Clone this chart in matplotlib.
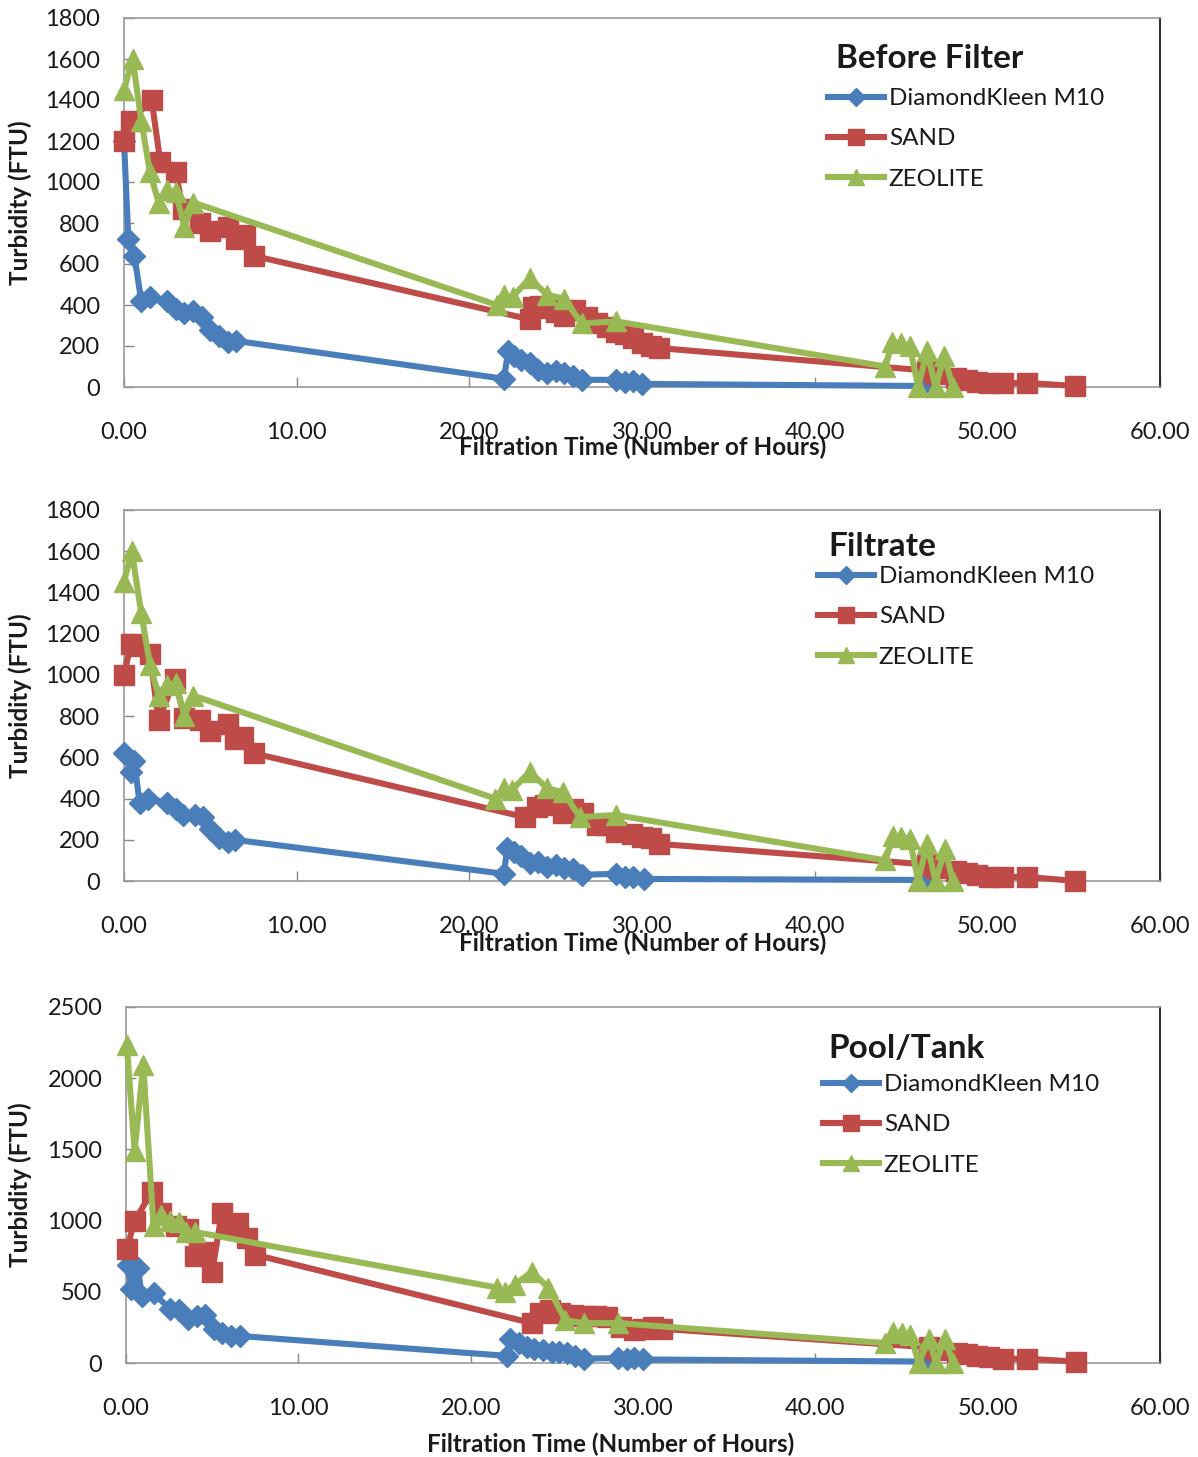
import matplotlib
matplotlib.use("Agg")
import matplotlib.pyplot as plt
from matplotlib.lines import Line2D
from matplotlib.ticker import FixedLocator, FuncFormatter

plt.rcParams['font.family'] = ['Lato', 'DejaVu Sans']

# ---------------- data ----------------
series_names = ["DiamondKleen M10", "SAND", "ZEOLITE"]
panel_titles = ["Before Filter", "Filtrate", "Pool/Tank"]
x_ticks = [0, 10, 20, 30, 40, 50, 60]
y_ticks_top = [0, 200, 400, 600, 800, 1000, 1200, 1400, 1600, 1800]
y_ticks_bottom = [0, 500, 1000, 1500, 2000, 2500]

# Before Filter
bf_dk_x = [0.0, 0.25, 0.6, 1.0, 1.5, 2.5, 3.0, 3.5, 4.0, 4.5, 5.0, 5.5, 6.0, 6.5,
           22.0, 22.25, 22.6, 23.0, 23.5, 24.0, 24.5, 25.0, 25.5, 26.0, 26.5,
           28.5, 29.0, 29.5, 30.0, 46.2]
bf_dk_y = [1200, 720, 640, 420, 440, 420, 380, 360, 370, 340, 280, 250, 220, 225,
           40, 175, 150, 130, 115, 85, 70, 80, 70, 55, 35,
           35, 25, 30, 15, 5]
bf_sand_x = [0.0, 0.4, 1.6, 2.1, 3.0, 3.4, 4.4, 5.0, 6.0, 6.5, 7.0, 7.5,
             23.5, 23.7, 24.1, 24.6, 25.0, 25.5, 26.1, 26.8, 27.4, 28.0, 28.5, 29.0,
             29.5, 30.0, 30.5, 31.0,
             46.5, 47.0, 48.2, 48.8, 49.4, 50.1, 50.9, 52.3, 55.1]
bf_sand_y = [1200, 1300, 1400, 1100, 1050, 870, 800, 760, 780, 720, 740, 640,
             330, 390, 395, 385, 365, 345, 375, 340, 310, 295, 270, 260,
             240, 215, 200, 190,
             80, 65, 45, 35, 25, 20, 18, 20, 5]
bf_zeo_x = [0.0, 0.5, 1.0, 1.5, 2.0, 2.5, 3.0, 3.5, 4.0,
            21.6, 22.0, 22.5, 23.5, 24.5, 25.5, 26.5, 28.5,
            44.1, 44.5, 45.0, 45.5, 46.0, 46.5, 47.0, 47.5, 48.0]
bf_zeo_y = [1450, 1600, 1300, 1050, 900, 960, 950, 780, 900,
            400, 450, 440, 530, 450, 430, 310, 320,
            100, 220, 215, 200, 0, 175, 0, 150, 0]

# Filtrate
f_dk_x = [0.0, 0.4, 0.6, 0.9, 1.4, 2.5, 3.0, 3.4, 4.1, 4.6, 5.0, 5.5, 6.0, 6.4,
          22.0, 22.2, 22.6, 23.0, 23.5, 24.0, 24.5, 25.0, 25.5, 26.0, 26.5,
          28.5, 29.0, 29.5, 30.1, 46.2]
f_dk_y = [620, 530, 580, 380, 400, 380, 350, 320, 320, 310, 250, 210, 190, 200,
          35, 160, 140, 120, 85, 90, 70, 80, 65, 60, 30,
          35, 20, 20, 10, 5]
f_sand_x = [0.0, 0.4, 0.7, 1.5, 2.0, 2.95, 3.5, 4.4, 5.0, 6.0, 6.4, 6.9, 7.5,
            23.2, 23.9, 24.4, 25.0, 25.4, 26.0, 26.6, 27.4, 28.0, 28.5, 29.4,
            30.0, 30.5, 31.0,
            46.5, 47.0, 48.2, 48.8, 49.4, 50.1, 50.9, 52.3, 55.1]
f_sand_y = [1000, 1150, 1140, 1100, 780, 980, 790, 780, 730, 760, 690, 700, 620,
            310, 360, 370, 375, 330, 350, 330, 270, 270, 240, 230,
            215, 210, 180,
            80, 65, 50, 40, 30, 20, 20, 20, 0]
f_zeo_x = [0.0, 0.45, 1.0, 1.5, 2.0, 2.5, 3.0, 3.5, 4.0,
           21.5, 22.0, 22.45, 23.5, 24.5, 25.45, 26.4, 28.5,
           44.1, 44.55, 45.0, 45.5, 46.0, 46.5, 47.0, 47.55, 48.0]
f_zeo_y = [1450, 1600, 1300, 1050, 900, 950, 960, 800, 900,
           400, 450, 440, 530, 450, 430, 310, 320,
           100, 220, 215, 205, 0, 180, 0, 155, 0]

# Pool/Tank
p_dk_x = [0.1, 0.3, 0.7, 0.9, 1.6, 2.55, 3.1, 3.6, 4.1, 4.6, 5.1, 5.55, 6.1, 6.6,
          22.1, 22.3, 22.8, 23.25, 23.7, 24.2, 24.7, 25.1, 25.6, 26.05, 26.55,
          28.55, 29.05, 29.5, 30.0, 46.2]
p_dk_y = [690, 520, 670, 470, 490, 380, 370, 310, 330, 340, 240, 210, 190, 190,
          50, 170, 140, 110, 95, 90, 80, 75, 70, 50, 30,
          35, 25, 35, 25, 10]
p_sand_x = [0.05, 0.5, 1.5, 2.05, 2.9, 3.6, 4.0, 4.5, 5.0, 5.55, 5.95, 6.5, 7.0, 7.5,
            23.55, 24.0, 24.6, 25.2, 25.95, 26.6, 27.3, 27.9, 28.75, 29.45,
            30.0, 30.6, 31.1,
            46.6, 47.0, 48.2, 48.8, 49.4, 50.1, 50.9, 52.3, 55.1]
p_sand_y = [800, 1000, 1200, 1050, 960, 940, 750, 780, 640, 1050, 960, 980, 880, 760,
            280, 350, 370, 350, 340, 330, 330, 320, 250, 230,
            240, 250, 240,
            110, 90, 70, 60, 50, 40, 30, 30, 10]
p_zeo_x = [0.05, 0.5, 1.0, 1.6, 2.05, 2.55, 3.05, 3.5, 4.0,
           21.5, 22.0, 22.55, 23.55, 24.5, 25.5, 26.55, 28.55,
           44.05, 44.5, 45.0, 45.5, 46.0, 46.6, 47.0, 47.5, 48.0]
p_zeo_y = [2230, 1490, 2090, 960, 1040, 1000, 990, 920, 920,
           530, 500, 550, 640, 530, 300, 280, 280,
           140, 220, 210, 200, 0, 170, 0, 170, 0]

# ---------------- styling ----------------
colors = ["#4A7EBB", "#BE4B48", "#98B954"]
markers = ["D", "s", "^"]
msizes = [11, 14, 15]
LW = 4.4
TXT = '#1a1a1a'

W, H = 1198, 1457
fig = plt.figure(figsize=(W / 100, H / 100), dpi=100)

def px_axes(l, t, r, b):
    return fig.add_axes([l / W, 1 - b / H, (r - l) / W, (b - t) / H])

panels = [
    dict(box=(124, 18, 1160, 387), ymax=1800, yt=y_ticks_top,
         data=[(bf_dk_x, bf_dk_y), (bf_sand_x, bf_sand_y), (bf_zeo_x, bf_zeo_y)],
         title=(836, 58), leg=(828, 88), xlab=(643, 447), xpad=25),
    dict(box=(124, 510, 1160, 881), ymax=1800, yt=y_ticks_top,
         data=[(f_dk_x, f_dk_y), (f_sand_x, f_sand_y), (f_zeo_x, f_zeo_y)],
         title=(828, 546), leg=(818, 566), xlab=(643, 943), xpad=25),
    dict(box=(126, 1007, 1160, 1363), ymax=2500, yt=y_ticks_bottom,
         data=[(p_dk_x, p_dk_y), (p_sand_x, p_sand_y), (p_zeo_x, p_zeo_y)],
         title=(828, 1048), leg=(823, 1074), xlab=(611, 1444), xpad=25),
]

for i, p in enumerate(panels):
    l, t, r, b = p["box"]
    ax = px_axes(l, t, r, b)
    for j, (xs, ys) in enumerate(p["data"]):
        ax.plot(xs, ys, color=colors[j], lw=LW, marker=markers[j],
                ms=msizes[j], mec=colors[j], mfc=colors[j], clip_on=False,
                zorder=3 + j, solid_joinstyle='round')
    ax.set_xlim(0, 60)
    ax.set_ylim(0, p["ymax"])
    ax.xaxis.set_major_locator(FixedLocator(x_ticks))
    ax.yaxis.set_major_locator(FixedLocator(p["yt"]))
    ax.xaxis.set_major_formatter(FuncFormatter(lambda v, pos: f"{v:.2f}"))
    ax.tick_params(axis='both', direction='in', length=7, width=1, color='#888888',
                   labelsize=17, labelcolor=TXT)
    ax.tick_params(axis='y', pad=17)
    ax.tick_params(axis='x', pad=p["xpad"])
    for s in ['left', 'bottom', 'top']:
        ax.spines[s].set_color('#999999')
        ax.spines[s].set_linewidth(1.2)
    ax.spines['right'].set_color('#333333')
    ax.spines['right'].set_linewidth(1.5)

    ax.set_ylabel("Turbidity (FTU)", fontsize=17.5, fontweight='bold', color=TXT)
    ax.yaxis.set_label_coords((20 - l) / (r - l), 0.5)
    ax.yaxis.label.set_va('center')
    ax.set_xlabel("Filtration Time (Number of Hours)", fontsize=17.5,
                  fontweight='bold', color=TXT)
    xl, yl = p["xlab"]
    ax.xaxis.set_label_coords((xl - l) / (r - l), (b - yl) / (b - t))
    ax.xaxis.label.set_va('center')

    tx, ty = p["title"]
    fig.text(tx / W, 1 - ty / H, panel_titles[i], fontsize=24, fontweight='bold',
             color=TXT, ha='left', va='center')

    handles = [Line2D([0], [0], color=colors[j], lw=LW, marker=markers[j],
                      ms=msizes[j] * 0.8, mfc=colors[j], mec=colors[j])
               for j in range(3)]
    lx, ly = p["leg"]
    leg = ax.legend(handles, series_names,
                    loc='upper left', bbox_to_anchor=(lx / W, 1 - ly / H),
                    bbox_transform=fig.transFigure, frameon=False,
                    fontsize=17.5, handlelength=2.3, handletextpad=0.2,
                    labelspacing=0.8, borderpad=0, borderaxespad=0, numpoints=1)
    for txt in leg.get_texts():
        txt.set_color(TXT)

fig.savefig("out.png", dpi=100)
